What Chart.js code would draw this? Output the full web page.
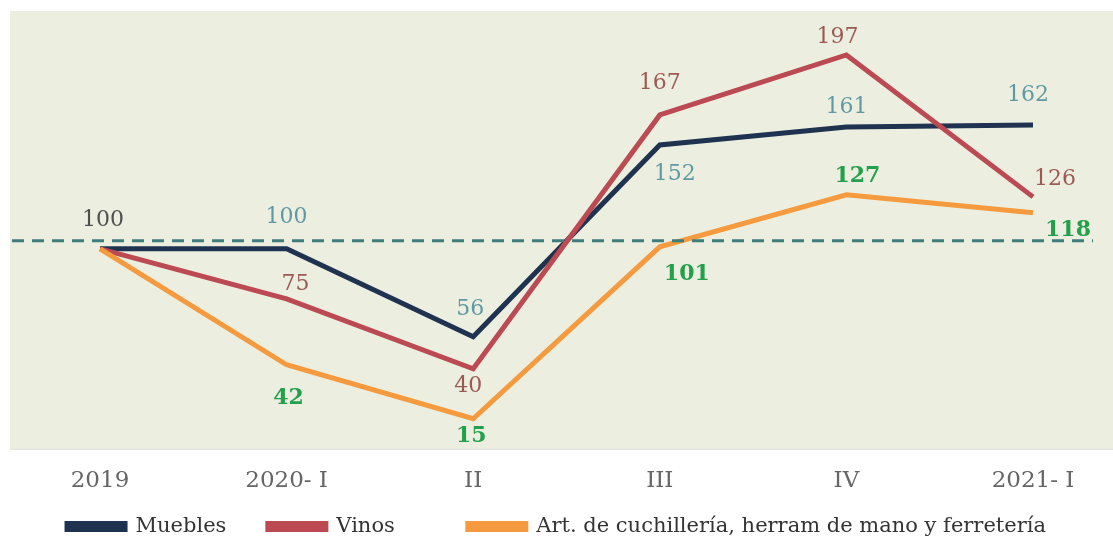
<!DOCTYPE html>
<html>
<head>
<meta charset="utf-8">
<script src="https://cdn.jsdelivr.net/npm/chart.js@4.4.1/dist/chart.umd.min.js"></script>
<style>
  html, body { margin: 0; padding: 0; background: #fff; }
  #wrap { width: 1113px; height: 542px; }
</style>
</head>
<body>
<div id="wrap"><canvas id="chart" width="1113" height="542"></canvas></div>
<script>
// data
const periods = ["2019", "2020- I", "II", "III", "IV", "2021- I"];
const muebles = [100, 100, 56, 152, 161, 162];
const vinos = [100, 75, 40, 167, 197, 126];
const cuchilleria = [100, 42, 15, 101, 127, 118];
const baseLine = 104;

// label placement (pixel offsets from each point), null = no label
const mueblesOffsets = [[3, -29], [0, -32], [-3, -27], [15, 29], [0, -20], [-5, -30]];
const vinosOffsets = [null, [9, -15], [-5, 18], [0, -32], [-9, -18], [22, -18]];
const cuchOffsets = [null, [2, 34], [-2, 18], [27, 27], [11, -19], [35, 17]];

const serif = "'DejaVu Serif', serif";

const backdrop = {
  id: "backdrop",
  beforeDraw(chart) {
    const { ctx, chartArea } = chart;
    ctx.save();
    ctx.fillStyle = "#ecefdf";
    ctx.fillRect(10, chartArea.top, chart.width - 10, chartArea.bottom - chartArea.top);
    ctx.fillStyle = "#d6d8d0";
    ctx.fillRect(10, chartArea.bottom, chart.width - 10, 1);
    ctx.restore();
  },
  afterDatasetsDraw(chart) {
    const { ctx } = chart;
    const y = chart.scales.y.getPixelForValue(baseLine);
    ctx.save();
    ctx.strokeStyle = "#3f7c7c";
    ctx.lineWidth = 3;
    ctx.setLineDash([12, 8]);
    ctx.beginPath();
    ctx.moveTo(12, y);
    ctx.lineTo(1093, y);
    ctx.stroke();
    ctx.restore();
  }
};

const pointLabels = {
  id: "pointLabels",
  afterDraw(chart) {
    const { ctx } = chart;
    ctx.save();
    ctx.textAlign = "center";
    ctx.textBaseline = "middle";
    chart.data.datasets.forEach((ds, i) => {
      const meta = chart.getDatasetMeta(i);
      ds.labelOffsets.forEach((off, j) => {
        if (!off) return;
        const pt = meta.data[j];
        ctx.font = (ds.labelBold ? "bold " : "") + "22px " + serif;
        ctx.fillStyle = (ds.labelColors && ds.labelColors[j]) || ds.labelColor;
        ctx.fillText(String(ds.data[j]), pt.x + off[0], pt.y + off[1]);
      });
    });
    ctx.restore();
  }
};

const chart = new Chart(document.getElementById("chart"), {
  type: "line",
  data: {
    labels: periods,
    datasets: [
      {
        label: "Muebles",
        data: muebles,
        borderColor: "#1f3350",
        backgroundColor: "#1f3350",
        order: 3,
        labelOffsets: mueblesOffsets,
        labelColor: "#5f9aa4",
        labelColors: ["#4f4f4f"]
      },
      {
        label: "Vinos",
        data: vinos,
        borderColor: "#bc4a52",
        backgroundColor: "#bc4a52",
        order: 2,
        labelOffsets: vinosOffsets,
        labelColor: "#9c5a55"
      },
      {
        label: "Art. de cuchillería, herram de mano y ferretería",
        data: cuchilleria,
        borderColor: "#f59a3e",
        backgroundColor: "#f59a3e",
        order: 1,
        labelOffsets: cuchOffsets,
        labelColor: "#23a04b",
        labelBold: true
      }
    ]
  },
  options: {
    responsive: false,
    animation: false,
    layout: { padding: { top: 11, left: 0, right: 0, bottom: -5 } },
    elements: {
      line: { borderWidth: 5, tension: 0, borderJoinStyle: "miter" },
      point: { radius: 0 }
    },
    scales: {
      x: {
        offset: false,
        grid: { display: false },
        border: { display: false },
        ticks: { color: "#666", font: { family: serif, size: 23, lineHeight: 1.1 }, padding: 12, maxRotation: 0 },
        afterFit(scale) {
          // keep first/last category inside the shaded panel
          scale.paddingLeft = 100;
          scale.paddingRight = 80;
        }
      },
      y: { display: false, min: 0, max: 219 }
    },
    plugins: {
      legend: {
        position: "bottom",
        labels: {
          color: "#333",
          font: { family: serif, size: 21 },
          boxWidth: 58,
          boxHeight: 6,
          padding: 10,
          sort: (a, b) => a.datasetIndex - b.datasetIndex,
          generateLabels(c) {
            const items = Chart.defaults.plugins.legend.labels.generateLabels(c);
            // wider gap after the first two entries, as in the source
            const gaps = ["\u2003\u2002", "\u2003\u2003\u2003", ""];
            items.forEach((it) => { it.text += gaps[it.datasetIndex]; });
            return items;
          }
        }
      },
      tooltip: { enabled: false }
    }
  },
  plugins: [backdrop, pointLabels]
});
</script>
</body>
</html>
